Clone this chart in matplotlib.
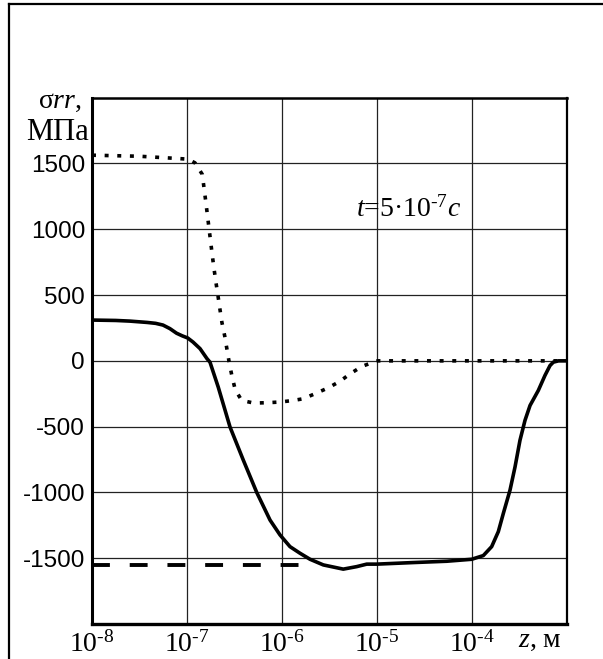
import matplotlib
matplotlib.use("Agg")
from matplotlib import pyplot as plt
from matplotlib.lines import Line2D

plt.rcParams['mathtext.fontset'] = 'custom'
plt.rcParams['mathtext.rm'] = 'Liberation Serif'
plt.rcParams['mathtext.it'] = 'Liberation Serif:italic'

# log10(z) and sigma_rr (MPa)
solid_logz = [-8.0, -7.75, -7.6, -7.42, -7.33, -7.253, -7.18, -7.11, -7.05, -6.993, -6.937, -6.863,
              -6.79, -6.758, -6.671, -6.547, -6.407, -6.266, -6.126, -6.021, -5.916, -5.811,
              -5.705, -5.565, -5.355, -5.214, -5.108, -5.003, -4.618, -4.266, -4.003, -3.881,
              -3.793, -3.723, -3.67, -3.6, -3.547, -3.495, -3.442, -3.389, -3.302, -3.232,
              -3.179, -3.144, -3.09, -3.0]
solid_val = [310, 307, 302, 292, 285, 272, 245, 210, 190, 174, 143, 93,
             17, -10, -200, -503, -755, -1000, -1210, -1323, -1412, -1462,
             -1508, -1551, -1583, -1564, -1545, -1545, -1533, -1523, -1508, -1480,
             -1412, -1298, -1159, -983, -806, -604, -452, -339, -225, -111,
             -36, -10, 0, 0]

dot_logz = [-8.0, -7.5, -7.1, -6.993, -6.916, -6.839, -6.821, -6.803, -6.786, -6.768,
            -6.751, -6.734, -6.716, -6.695, -6.674, -6.653, -6.632, -6.603, -6.579, -6.555,
            -6.526, -6.492, -6.424, -6.295, -6.155, -6.021, -5.881, -5.776, -5.653, -5.513,
            -5.389, -5.284, -5.161, -5.039, -4.99, -3.0]
dot_val = [1563, 1555, 1538, 1533, 1505, 1417, 1315, 1214, 1114, 1005,
           906, 803, 702, 595, 495, 391, 290, 189, 86, -15,
           -119, -220, -301, -321, -318, -313, -301, -288, -250, -205,
           -155, -99, -43, -10, 0, 0]

dash_logz = [-8.0, -5.78]
dash_val = [-1548, -1548]

xtick_vals = [1e-8, 1e-7, 1e-6, 1e-5, 1e-4]
xtick_labels = [r'$10^{\text{-}8}$', r'$10^{\text{-}7}$', r'$10^{\text{-}6}$',
                r'$10^{\text{-}5}$', r'$10^{\text{-}4}$']
ytick_vals = [-1500, -1000, -500, 0, 500, 1000, 1500]

W, H = 603, 659
fig = plt.figure(figsize=(W / 100, H / 100), dpi=100)
ax = fig.add_axes([92 / W, (H - 624) / H, (567 - 92) / W, (624 - 97.7) / H])

ax.plot([10 ** v for v in solid_logz], solid_val, color='black', lw=2.6, solid_capstyle='butt')
ax.plot([10 ** v for v in dot_logz], dot_val, color='black', lw=2.6,
        linestyle=(0, (1.1, 2.4)), dash_capstyle='butt')
ax.plot([10 ** v for v in dash_logz], dash_val, color='black', lw=2.8,
        linestyle=(0, (4.6, 5.1)), dash_capstyle='butt')

ax.set_xscale('log')
ax.set_xlim(1e-8, 1e-3)
ax.set_ylim(-2000, 2000)
ax.set_xticks(xtick_vals)
ax.set_xticklabels(xtick_labels, fontsize=20, family='Liberation Serif')
ax.minorticks_off()
ax.set_yticks(ytick_vals)
ax.set_yticklabels([str(v) for v in ytick_vals], fontsize=17.5, family='Liberation Sans')
ax.tick_params(length=0)
ax.tick_params(axis='x', pad=5)
ax.tick_params(axis='y', pad=5)
ax.grid(True, color='#222222', lw=0.9)
ax.set_axisbelow(True)

for side, lw in [('left', 2.2), ('bottom', 2.4), ('top', 1.8), ('right', 1.6)]:
    ax.spines[side].set_linewidth(lw)

fig.text(38 / W, 1 - 108 / H, r'σ$\mathit{rr}$,', fontsize=20, family='Liberation Serif', va='baseline')
fig.text(26 / W, 1 - 140 / H, 'МПа', fontsize=22, family='Liberation Serif', va='baseline')
fig.text(356 / W, 1 - 217 / H, r'$\mathit{t}$=5·10$^{\text{-}7}$$\mathit{c}$', fontsize=20,
         family='Liberation Serif', va='baseline')
fig.text(518 / W, 1 - 647 / H, r'$\mathit{z}$, м', fontsize=20, family='Liberation Serif', va='baseline')

# outer frame (clipped by the image edges)
fig.add_artist(Line2D([9 / W, 9 / W], [0, 1 - 4 / H], transform=fig.transFigure, color='black', lw=1.6))
fig.add_artist(Line2D([9 / W, 1], [1 - 4 / H, 1 - 4 / H], transform=fig.transFigure, color='black', lw=1.6))

fig.savefig('out.png', dpi=100)
